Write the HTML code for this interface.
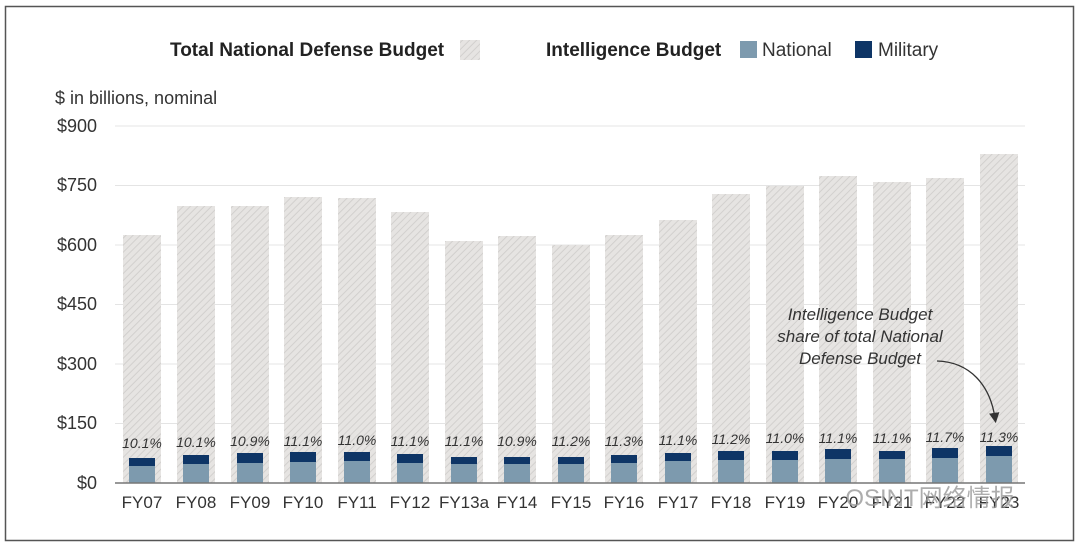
<!DOCTYPE html>
<html><head><meta charset="utf-8"><style>
html,body{margin:0;padding:0;background:#fff;}
svg{display:block;font-family:"Liberation Sans","Noto Sans CJK SC",sans-serif;}
</style></head><body>
<svg width="1080" height="547" viewBox="0 0 1080 547" xmlns="http://www.w3.org/2000/svg">
<defs>
<pattern id="h" width="5" height="5" patternUnits="userSpaceOnUse" patternTransform="rotate(45)">
<rect width="5" height="5" fill="#e6e4e2"/><line x1="0" y1="0" x2="0" y2="5" stroke="#d0cecc" stroke-width="1.8"/>
</pattern>
<marker id="a" markerWidth="8" markerHeight="8" refX="4" refY="4" orient="auto"><path d="M0,0 L8,4 L0,8z" fill="#333"/></marker>
</defs>
<rect x="5.5" y="6.5" width="1068" height="534" fill="#fff" stroke="#555" stroke-width="1.5"/>
<text x="170" y="56" font-size="19" font-weight="bold" fill="#222">Total National Defense Budget</text>
<rect x="460" y="40" width="20" height="20" fill="url(#h)"/>
<text x="546" y="56" font-size="19" font-weight="bold" fill="#222">Intelligence Budget</text>
<rect x="740" y="41" width="17" height="17" fill="#7d9aae"/>
<text x="762" y="56" font-size="19" fill="#333">National</text>
<rect x="855" y="41" width="17" height="17" fill="#0e3566"/>
<text x="878" y="56" font-size="19" fill="#333">Military</text>
<text x="55" y="104" font-size="18" fill="#333">$ in billions, nominal</text>
<g font-size="18" fill="#333" text-anchor="end">
<text x="97" y="132">$900</text><text x="97" y="191">$750</text><text x="97" y="251">$600</text>
<text x="97" y="310">$450</text><text x="97" y="370">$300</text><text x="97" y="429">$150</text><text x="97" y="489">$0</text>
</g>
<g stroke="#e4e4e4" stroke-width="1">
<line x1="115" y1="126" x2="1025" y2="126"/><line x1="115" y1="185.5" x2="1025" y2="185.5"/>
<line x1="115" y1="245" x2="1025" y2="245"/><line x1="115" y1="304.5" x2="1025" y2="304.5"/>
<line x1="115" y1="364" x2="1025" y2="364"/><line x1="115" y1="423.5" x2="1025" y2="423.5"/>
</g>
<g fill="url(#h)">
<rect x="123" y="235" width="38" height="248"/><rect x="177" y="206" width="38" height="277"/>
<rect x="231" y="206" width="38" height="277"/><rect x="284" y="197" width="38" height="286"/>
<rect x="338" y="198" width="38" height="285"/><rect x="391" y="212" width="38" height="271"/>
<rect x="445" y="241" width="38" height="242"/><rect x="498" y="236" width="38" height="247"/>
<rect x="552" y="245" width="38" height="238"/><rect x="605" y="235" width="38" height="248"/>
<rect x="659" y="220" width="38" height="263"/><rect x="712" y="194" width="38" height="289"/>
<rect x="766" y="186" width="38" height="297"/><rect x="819" y="176" width="38" height="307"/>
<rect x="873" y="182" width="38" height="301"/><rect x="926" y="178" width="38" height="305"/>
<rect x="980" y="154" width="38" height="329"/>
</g>
<g>
<rect x="129" y="458" width="26" height="8" fill="#0e3566"/><rect x="129" y="466" width="26" height="17" fill="#7d9aae"/>
<rect x="183" y="455" width="26" height="9" fill="#0e3566"/><rect x="183" y="464" width="26" height="19" fill="#7d9aae"/>
<rect x="237" y="453" width="26" height="10" fill="#0e3566"/><rect x="237" y="463" width="26" height="20" fill="#7d9aae"/>
<rect x="290" y="452" width="26" height="10" fill="#0e3566"/><rect x="290" y="462" width="26" height="21" fill="#7d9aae"/>
<rect x="344" y="452" width="26" height="9" fill="#0e3566"/><rect x="344" y="461" width="26" height="22" fill="#7d9aae"/>
<rect x="397" y="454" width="26" height="9" fill="#0e3566"/><rect x="397" y="463" width="26" height="20" fill="#7d9aae"/>
<rect x="451" y="457" width="26" height="7" fill="#0e3566"/><rect x="451" y="464" width="26" height="19" fill="#7d9aae"/>
<rect x="504" y="457" width="26" height="7" fill="#0e3566"/><rect x="504" y="464" width="26" height="19" fill="#7d9aae"/>
<rect x="558" y="457" width="26" height="7" fill="#0e3566"/><rect x="558" y="464" width="26" height="19" fill="#7d9aae"/>
<rect x="611" y="455" width="26" height="8" fill="#0e3566"/><rect x="611" y="463" width="26" height="20" fill="#7d9aae"/>
<rect x="665" y="453" width="26" height="8" fill="#0e3566"/><rect x="665" y="461" width="26" height="22" fill="#7d9aae"/>
<rect x="718" y="451" width="26" height="9" fill="#0e3566"/><rect x="718" y="460" width="26" height="23" fill="#7d9aae"/>
<rect x="772" y="451" width="26" height="9" fill="#0e3566"/><rect x="772" y="460" width="26" height="23" fill="#7d9aae"/>
<rect x="825" y="449" width="26" height="10" fill="#0e3566"/><rect x="825" y="459" width="26" height="24" fill="#7d9aae"/>
<rect x="879" y="451" width="26" height="8" fill="#0e3566"/><rect x="879" y="459" width="26" height="24" fill="#7d9aae"/>
<rect x="932" y="448" width="26" height="10" fill="#0e3566"/><rect x="932" y="458" width="26" height="25" fill="#7d9aae"/>
<rect x="986" y="446" width="26" height="10" fill="#0e3566"/><rect x="986" y="456" width="26" height="27" fill="#7d9aae"/>
</g>
<line x1="115" y1="483" x2="1025" y2="483" stroke="#777" stroke-width="1.5"/>
<g font-size="14" font-style="italic" fill="#333" text-anchor="middle">
<text x="142" y="448">10.1%</text><text x="196" y="447">10.1%</text><text x="250" y="446">10.9%</text>
<text x="303" y="446">11.1%</text><text x="357" y="445">11.0%</text><text x="410" y="446">11.1%</text>
<text x="464" y="446">11.1%</text><text x="517" y="446">10.9%</text><text x="571" y="446">11.2%</text>
<text x="624" y="446">11.3%</text><text x="678" y="445">11.1%</text><text x="731" y="444">11.2%</text>
<text x="785" y="443">11.0%</text><text x="838" y="443">11.1%</text><text x="892" y="443">11.1%</text>
<text x="945" y="442">11.7%</text><text x="999" y="442">11.3%</text>
</g>
<g font-size="17" fill="#333" text-anchor="middle">
<text x="142" y="508">FY07</text><text x="196" y="508">FY08</text><text x="250" y="508">FY09</text>
<text x="303" y="508">FY10</text><text x="357" y="508">FY11</text><text x="410" y="508">FY12</text>
<text x="464" y="508">FY13a</text><text x="517" y="508">FY14</text><text x="571" y="508">FY15</text>
<text x="624" y="508">FY16</text><text x="678" y="508">FY17</text><text x="731" y="508">FY18</text>
<text x="785" y="508">FY19</text><text x="838" y="508">FY20</text><text x="892" y="508">FY21</text>
<text x="945" y="508">FY22</text><text x="999" y="508">FY23</text>
</g>
<g font-size="17" font-style="italic" fill="#333" text-anchor="middle">
<text x="860" y="320">Intelligence Budget</text>
<text x="860" y="342">share of total National</text>
<text x="860" y="364">Defense Budget</text>
</g>
<path d="M937,361 C970,362 990,385 995,418" fill="none" stroke="#333" stroke-width="1.3" marker-end="url(#a)"/>
<text x="930" y="506" font-size="24" fill="#999" opacity="0.8" text-anchor="middle">OSINT网络情报</text>
</svg>
</body></html>
